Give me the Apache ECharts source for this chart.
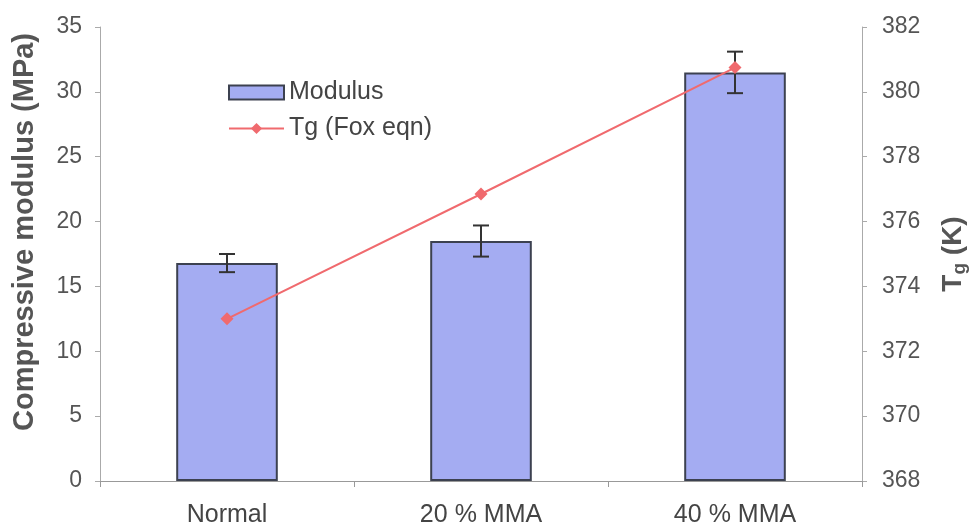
<!DOCTYPE html>
<html><head><meta charset="utf-8">
<script src="https://cdn.jsdelivr.net/npm/echarts@6/dist/echarts.min.js"></script>
<style>html,body{margin:0;padding:0;background:#fff;overflow:hidden}#c{width:971px;height:530px}</style>
</head><body><div id="c"></div>
<script>
const categories = ['Normal', '20 % MMA', '40 % MMA'];
const modulus = [16.8, 18.5, 31.5];
const modulusErr = [0.7, 1.2, 1.6];
const tgFox = [373.0, 376.85, 380.75];
const leftTicks = [0, 35, 5];
const rightTicks = [368, 382, 2];

const errData = modulus.map((v, i) => [i, v - modulusErr[i], v + modulusErr[i]]);
const font = 'Liberation Sans, Arial, sans-serif';
const chart = echarts.init(document.getElementById('c'), null, {width: 971, height: 530});
chart.setOption({
  backgroundColor: '#fff',
  animation: false,
  grid: {left: 100, right: 109, top: 27, bottom: 49, containLabel: false, outerBoundsMode: 'none'},
  legend: {
    orient: 'vertical', left: 223, top: 75, itemWidth: 55, itemHeight: 14, itemGap: 11,
    textStyle: {fontFamily: font, fontSize: 25, color: '#444', padding: [0, 0, 0, 0]},
    data: [
      {name: 'Modulus', icon: 'rect'},
      {name: 'Tg (Fox eqn)'}
    ]
  },
  xAxis: {
    type: 'category', data: categories,
    axisLine: {lineStyle: {color: '#999', width: 1}},
    axisTick: {show: true, interval: 0, length: 6, lineStyle: {color: '#999'}},
    axisLabel: {fontFamily: font, fontSize: 25, color: '#444', margin: 22}
  },
  yAxis: [{
    type: 'value', min: leftTicks[0], max: leftTicks[1], interval: leftTicks[2],
    name: 'Compressive modulus (MPa)', nameLocation: 'middle', nameGap: 61,
    nameTextStyle: {fontFamily: font, fontSize: 29, fontWeight: 'bold', color: '#555', padding: [0, 0, 0, 44]},
    axisLine: {show: true, lineStyle: {color: '#aaa'}},
    axisTick: {show: true, length: 5, lineStyle: {color: '#aaa'}},
    splitLine: {show: false},
    axisLabel: {fontFamily: font, fontSize: 23, color: '#555', margin: 18}
  }, {
    type: 'value', min: rightTicks[0], max: rightTicks[1], interval: rightTicks[2], position: 'right',
    name: '{t|T}{s|g}{t| (K)}', nameLocation: 'middle', nameGap: 76, nameRotate: 90,
    nameTextStyle: {fontFamily: font, color: '#555', rich: {
      t: {fontFamily: font, fontSize: 28, fontWeight: 'bold', color: '#555'},
      s: {fontFamily: font, fontSize: 19, fontWeight: 'bold', color: '#555', verticalAlign: 'bottom', padding: [12, 0, 0, 0]}
    }},
    axisLine: {show: true, lineStyle: {color: '#aaa'}},
    axisTick: {show: true, length: 5, lineStyle: {color: '#aaa'}},
    splitLine: {show: false},
    axisLabel: {fontFamily: font, fontSize: 23, color: '#555', margin: 20}
  }],
  series: [{
    name: 'Modulus', type: 'bar', data: modulus, barWidth: '40%', yAxisIndex: 0,
    itemStyle: {color: '#a4acf2', borderColor: '#3c4150', borderWidth: 2}
  }, {
    name: 'errors', type: 'custom', yAxisIndex: 0, data: errData, z: 5,
    renderItem: function (params, api) {
      const lo = api.coord([api.value(0), api.value(1)]);
      const hi = api.coord([api.value(0), api.value(2)]);
      const hw = 8;
      const st = {stroke: '#333', lineWidth: 2};
      return {type: 'group', children: [
        {type: 'line', shape: {x1: lo[0], y1: lo[1], x2: hi[0], y2: hi[1]}, style: st},
        {type: 'line', shape: {x1: lo[0] - hw, y1: lo[1], x2: lo[0] + hw, y2: lo[1]}, style: st},
        {type: 'line', shape: {x1: hi[0] - hw, y1: hi[1], x2: hi[0] + hw, y2: hi[1]}, style: st}
      ]};
    }
  }, {
    name: 'Tg (Fox eqn)', type: 'line', data: tgFox, yAxisIndex: 1, z: 6,
    symbol: 'diamond', symbolSize: 13,
    lineStyle: {color: '#f06a6e', width: 2},
    itemStyle: {color: '#f06a6e'}
  }]
});
</script></body></html>
